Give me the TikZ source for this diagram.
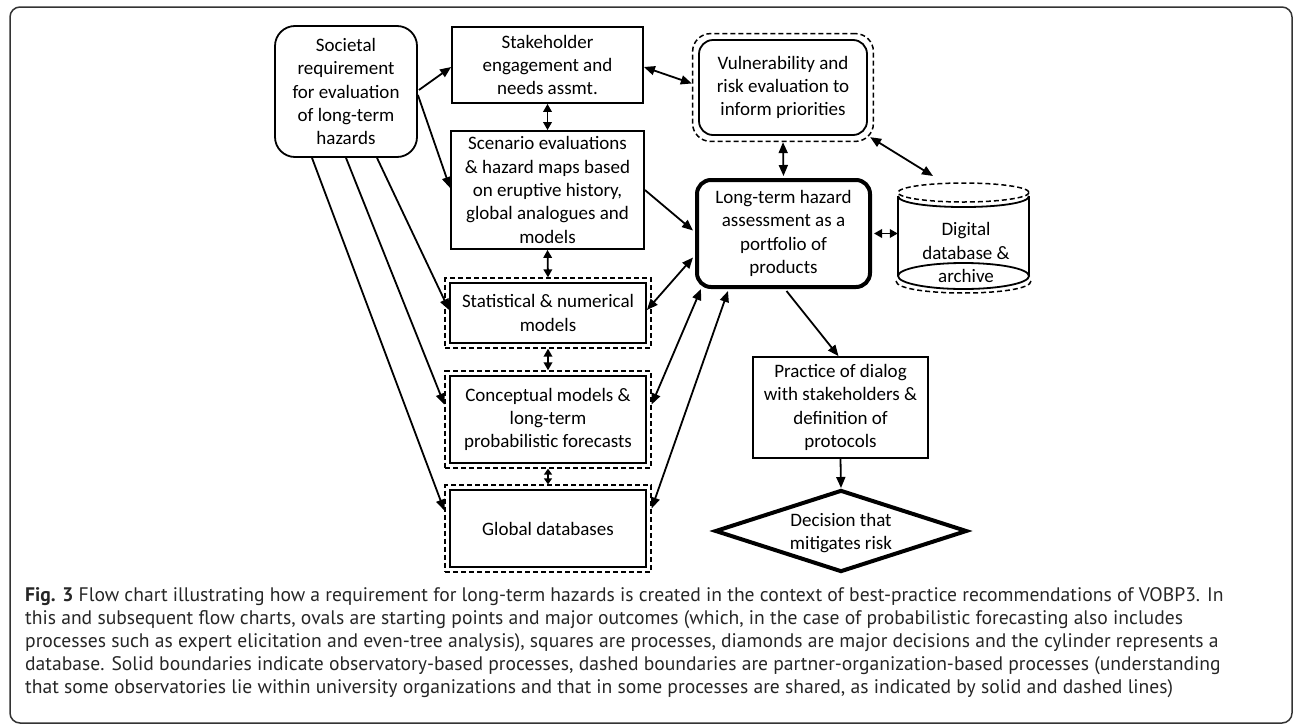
\documentclass[tikz,border=0pt]{standalone}
\usepackage{fontspec}
\setmainfont{Carlito}
\newfontfamily\capfont{PT Sans}
\usetikzlibrary{arrows.meta,shapes.geometric,fit,calc}
\begin{document}
\begin{tikzpicture}[x=1pt,y=-1pt,
  every node/.style={font=\fontsize{19}{23.3}\selectfont, align=center, inner sep=0pt},
  proc/.style={draw, line width=1.8pt},
  frm/.style={draw, dash pattern=on 5pt off 3pt, line width=1.5pt, inner sep=4pt},
  tip/.tip={Triangle[length=11pt,width=9pt]},
  stip/.tip={Triangle[length=8pt,width=8.5pt]},
  xtip/.tip={Triangle[length=6pt,width=8pt]},
  arr/.style={line width=1.8pt, -tip},
  darr/.style={line width=1.8pt, tip-tip},
  sdarr/.style={line width=1.8pt, stip-stip},
  xdarr/.style={line width=1.8pt, xtip-xtip}]
\useasboundingbox (0,0) rectangle (1295,726);
% outer frame
\draw[line width=1.5pt, black!80, rounded corners=10pt] (10,7) rectangle (1292,723);

% nodes
\node[proc, rounded corners=20pt, minimum width=142pt, minimum height=131pt] (soc) at (346,91.5)
  {Societal\\requirement\\for evaluation\\of long-term\\hazards};
\node[proc, minimum width=191pt, minimum height=76pt] (stk) at (547.5,65)
  {Stakeholder\\engagement and\\needs assmt.};
\node[proc, minimum width=193pt, minimum height=118pt] (scn) at (547.5,190)
  {Scenario evaluations\\\& hazard maps based\\on eruptive history,\\global analogues and\\models};
\node[proc, rounded corners=14pt, minimum width=168pt, minimum height=95pt] (vul) at (783,87.5)
  {Vulnerability and\\risk evaluation to\\inform priorities};
\node[frm, rounded corners=18pt, inner sep=5.5pt, fit=(vul)] (vulO) {};
\node[draw, line width=4pt, rounded corners=14pt, minimum width=173pt, minimum height=107pt] (lth) at (783.5,233.5)
  {Long-term hazard\\assessment as a\\portfolio of\\products};
\node[proc, minimum width=196pt, minimum height=60pt] (sta) at (548,313)
  {Statistical \& numerical\\models};
\node[frm, fit=(sta)] (staO) {};
\node[proc, minimum width=196pt, minimum height=87pt] (con) at (548,419.5)
  {Conceptual models \&\\long-term\\probabilistic forecasts};
\node[frm, fit=(con)] (conO) {};
\node[proc, minimum width=196pt, minimum height=77pt] (glo) at (548,528.5)
  {Global databases};
\node[frm, fit=(glo)] (gloO) {};
\node[proc, minimum width=175pt, minimum height=101pt] (prc) at (840.5,407.5)
  {Practice of dialog\\with stakeholders \&\\definition of\\protocols};
\node[draw, diamond, line width=4pt, minimum width=252pt, minimum height=82pt] (dia) at (841,531) {};
\node (diat) at (841,533) {Decision that\\mitigates risk};

% cylinder
\node[minimum width=131pt, minimum height=114pt] (cyl) at (963.5,240) {};
\draw[line width=1.5pt, dash pattern=on 5pt off 3pt] (963.5,192.5) ellipse [x radius=65.5, y radius=9.5];
\draw[line width=1.8pt] (898,196) .. controls (898,210.7) and (1029,210.7) .. (1029,196);
\draw[line width=1.8pt] (898,196) -- (898,276) (1029,196) -- (1029,276);
\draw[line width=1.8pt] (963.5,276) ellipse [x radius=65.5, y radius=13];
\draw[line width=1.5pt, dash pattern=on 5pt off 3pt] (896,281) .. controls (896,297) and (1031,297) .. (1031,281);
\node (cylt) at (966,252.5) {Digital\\database \&\\archive};
\coordinate (cyltop) at (933,176);

% connectors
\draw[arr] ($(soc.east)+(1,-1.5)$) -- ($(stk.west)+(0,2)$);
\draw[arr] ($(soc.east)+(0,3.5)$) -- ($(scn.west)+(0,-2)$);
\draw[sdarr] (stk.south) -- (scn.north);
\draw[darr] ($(stk.east)+(0,2)$) -- ($(vulO.west)+(0,-4)$);
\draw[arr] (scn.east) -- ($(lth.west)+(-2,-3)$);
\draw[sdarr] (scn.south) -- (staO.north);
\draw[darr] (vulO.south) -- ($(lth.north)+(0,-2)$);
\draw[darr] ($(vulO.south east)+(-4,-5)$) -- (cyltop);
\draw[sdarr] ($(lth.east)+(2,0)$) -- (lth.east -| cyl.west);
\draw[arr] ($(lth.south)+(3,2)$) -- ($(prc.north)+(-2,0)$);
\draw[arr] (prc.south) -- (dia.north);
\draw[sdarr] (staO.south) -- (conO.north);
\draw[xdarr] (conO.south) -- (gloO.north);
\draw[arr] ($(soc.south)+(31,0)$) -- ($(sta.west)+(0,-3)$);
\draw[arr] (soc.south) -- ($(conO.west)+(0,-15)$);
\draw[arr] ($(soc.south)+(-34,0)$) -- ($(gloO.west)+(0,-18)$);
\draw[darr] ($(lth.west)+(-2,24)$) -- ($(sta.east)+(0,-3)$);
\draw[darr] ($(lth.south west)+(6,0)$) -- ($(conO.east)+(0,-15)$);
\draw[darr] ($(lth.south west)+(33,2)$) -- ($(gloO.east)+(0,-20)$);

% caption
\node[anchor=north west, align=left, font=\capfont\fontsize{19.6}{23}\selectfont, text=black!85] (cap) at (25,587)
 {\textbf{Fig. 3} Flow chart illustrating how a requirement for long-term hazards is created in the context of best-practice recommendations of VOBP3. In\\
 this and subsequent flow charts, ovals are starting points and major outcomes (which, in the case of probabilistic forecasting also includes\\
 processes such as expert elicitation and even-tree analysis), squares are processes, diamonds are major decisions and the cylinder represents a\\
 database. Solid boundaries indicate observatory-based processes, dashed boundaries are partner-organization-based processes (understanding\\
 that some observatories lie within university organizations and that in some processes are shared, as indicated by solid and dashed lines)};
\end{tikzpicture}
\end{document}
